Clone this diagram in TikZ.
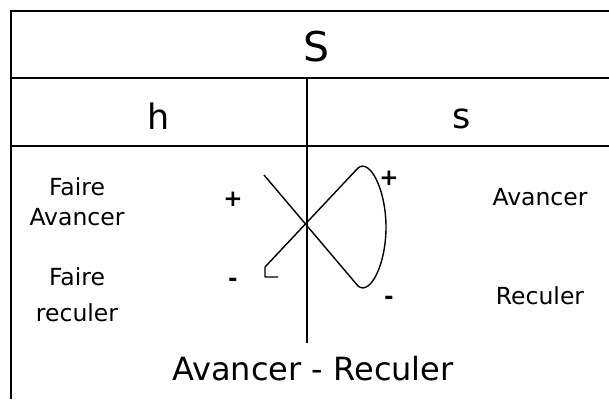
\documentclass[tikz,border=0pt]{standalone}
\usepackage{fontspec}
\setmainfont{DejaVu Sans}
\usetikzlibrary{positioning,calc}
\tikzset{
  rule/.style={draw=black, line width=1.2pt},
  thickrule/.style={draw=black, line width=2.4pt},
  loopline/.style={draw=black, line width=1.4pt, line join=round},
  titletext/.style={font=\fontsize{41}{45}\selectfont, inner sep=0pt},
  headtext/.style={font=\fontsize{35}{39}\selectfont, inner sep=0pt},
  sidetext/.style={font=\fontsize{23.5}{27}\selectfont, inner sep=0pt},
  signtext/.style={font=\fontsize{23}{27}\selectfont\bfseries, inner sep=0pt},
  foottext/.style={font=\fontsize{32}{36}\selectfont, inner sep=0pt}
}

\begin{document}
\begin{tikzpicture}[x=1pt, y=-1pt]
\useasboundingbox (0,0) rectangle (609,399);

%--------------------------------------------------
% Table frame
%--------------------------------------------------
\draw[rule] (609,11) -- (11,11) -- (11,399);
\draw[rule] (11,78) -- (609,78);
\draw[thickrule] (11,146) -- (609,146);
\draw[rule] (307,78) -- (307,343);

%--------------------------------------------------
% Headers
%--------------------------------------------------
\node[titletext] (bigS) at (317,47) {S};
\node[headtext] (hcol) at (159,116) {h};
\node[headtext] (scol) at (462,119) {s};

%--------------------------------------------------
% Left column labels
%--------------------------------------------------
\node[sidetext] (faireA) at (77,187) {Faire};
\node[sidetext] (avancerL) at (77,217) {Avancer};
\node[sidetext] (faireR) at (77,277) {Faire};
\node[sidetext] (reculerL) at (77,313) {reculer};

\node[signtext] (plusL) at (233,199) {+};
\node[signtext] (minusL) at (233,282) {-};

%--------------------------------------------------
% Right column labels
%--------------------------------------------------
\node[sidetext] (avancerR) at (540,197) {Avancer};
\node[sidetext] (reculerR) at (540,296) {Reculer};

\node[signtext] (plusR) at (389,178) {+};
\node[signtext] (minusR) at (389,300) {-};

%--------------------------------------------------
% Crossing loop
%--------------------------------------------------
\coordinate (tail) at (278,277);
\coordinate (foot) at (265,277);
\coordinate (lowl) at (265,267);
\coordinate (topr) at (358,168);
\coordinate (rightr) at (386,227);
\coordinate (botr) at (358,286);
\coordinate (upl) at (264,175);

\draw[loopline] (tail) -- (foot) -- (lowl) -- (topr)
  .. controls (370,158) and (386,190) .. (rightr)
  .. controls (386,265) and (370,296) .. (botr) -- (upl);

%--------------------------------------------------
% Footer
%--------------------------------------------------
\node[foottext] (footer) at (313,369) {Avancer - Reculer};

\end{tikzpicture}
\end{document}
